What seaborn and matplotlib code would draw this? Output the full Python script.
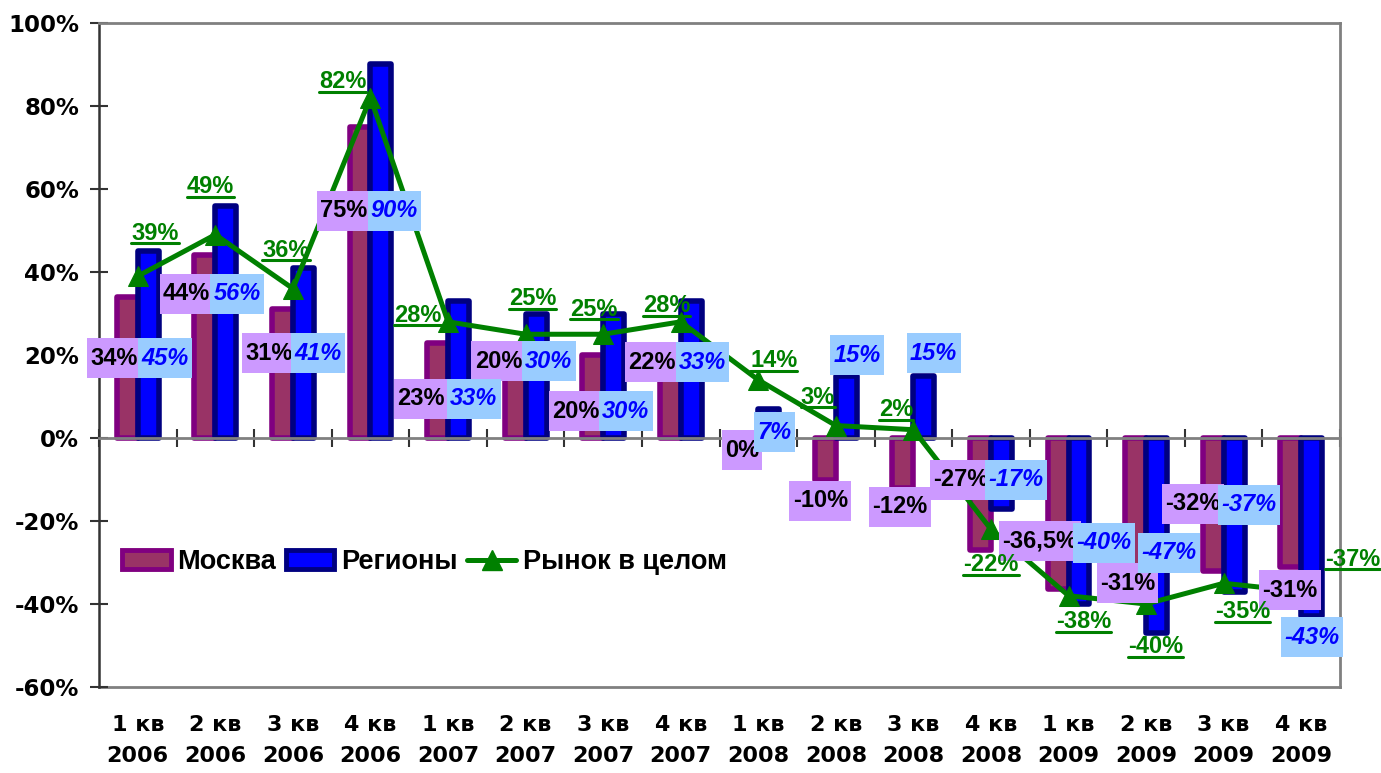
import numpy as np
import pandas as pd
import matplotlib
matplotlib.use("Agg")
import matplotlib.pyplot as plt
import seaborn as sns
from matplotlib.path import Path
from matplotlib.lines import Line2D
from matplotlib.patches import Patch
from matplotlib.ticker import FuncFormatter, NullLocator
from matplotlib.font_manager import FontProperties

# ---------------- data ----------------
quarters = ["1 кв\n2006", "2 кв\n2006", "3 кв\n2006", "4 кв\n2006",
            "1 кв\n2007", "2 кв\n2007", "3 кв\n2007", "4 кв\n2007",
            "1 кв\n2008", "2 кв\n2008", "3 кв\n2008", "4 кв\n2008",
            "1 кв\n2009", "2 кв\n2009", "3 кв\n2009", "4 кв\n2009"]
moscow = [34, 44, 31, 75, 23, 20, 20, 22, 0, -10, -12, -27, -36.5, -31, -32, -31]
regions = [45, 56, 41, 90, 33, 30, 30, 33, 7, 15, 15, -17, -40, -47, -37, -43]
market = [39, 49, 36, 82, 28, 25, 25, 28, 14, 3, 2, -22, -38, -40, -35, -37]
series_names = ["Москва", "Регионы", "Рынок в целом"]
y_ticks = [-60, -40, -20, 0, 20, 40, 60, 80, 100]

# ---------------- label placement (offset from category centre, y in %) ----------------
moscow_lab_dx = [-0.31, -0.37, -0.31, -0.34, -0.35, -0.35, -0.35, -0.37,
                 -0.21, -0.20, -0.17, -0.39, -0.37, -0.24, -0.40, -0.15]
moscow_lab_y = [19.2, 34.8, 20.4, 54.8, 9.4, 18.5, 6.5, 18.2,
                -2.9, -15.1, -16.6, -10.0, -24.9, -35.0, -15.8, -36.7]
regions_lab_dx = [0.35, 0.28, 0.32, 0.31, 0.33, 0.30, 0.29, 0.28,
                  0.21, 0.27, 0.26, 0.32, 0.46, 0.30, 0.33, 0.14]
regions_lab_y = [19.2, 34.8, 20.4, 54.8, 9.4, 18.5, 6.5, 18.2,
                 1.4, 19.9, 20.4, -10.0, -25.2, -27.6, -16.1, -48.0]
market_lab_dx = [0.22, -0.06, -0.09, -0.36, -0.39, 0.09, -0.12, -0.18,
                 0.20, -0.23, -0.22, 0.00, 0.19, 0.12, 0.24, 0.66]
market_lab_y = [49.3, 60.5, 45.2, 85.8, 29.6, 33.5, 31.0, 31.9,
                18.6, 9.8, 6.8, -30.5, -44.3, -50.3, -41.9, -29.2]

# ---------------- styles ----------------
MOSCOW_FILL, MOSCOW_EDGE = "#993366", "#800080"
REGIONS_FILL, REGIONS_EDGE = "#0000FF", "#000080"
MARKET_COLOR = "#008000"
MOSCOW_BOX, REGIONS_BOX = "#CC99FF", "#99CCFF"
BORDER = "#808080"
AXIS_DARK = "#333333"
LABEL_SIZE = 17

sns.set_style("white")
plt.rcParams["font.family"] = ["Liberation Sans", "DejaVu Sans"]
plt.rcParams["font.weight"] = "bold"
plt.rcParams["text.color"] = "black"
plt.rcParams["xtick.labelcolor"] = "black"
plt.rcParams["ytick.labelcolor"] = "black"


def fmt_pct(v):
    if float(v).is_integer():
        return f"{v:.0f}%"
    return f"{v}".replace(".", ",") + "%"


def label_box(x0, y0, width, height, mutation_size):
    """Rectangle with separate horizontal / vertical padding."""
    px = 0.14 * mutation_size
    py = 0.36 * mutation_size
    return Path([(x0 - px, y0 - py), (x0 + width + px, y0 - py),
                 (x0 + width + px, y0 + height + py), (x0 - px, y0 + height + py),
                 (x0 - px, y0 - py)], closed=True)


n = len(quarters)
pos = np.arange(n)

fig = plt.figure(figsize=(13.81, 7.73), dpi=100)
ax = fig.add_axes([99 / 1381, 1 - 687 / 773, 1241 / 1381, 664 / 773])

df = pd.DataFrame({
    "Квартал": quarters * 2,
    "Серия": [series_names[0]] * n + [series_names[1]] * n,
    "Изменение": moscow + regions,
})

sns.barplot(data=df, x="Квартал", y="Изменение", hue="Серия",
            order=quarters, hue_order=series_names[:2],
            palette=[MOSCOW_FILL, REGIONS_FILL], saturation=1,
            width=0.54, dodge=True, gap=0, errorbar=None,
            linewidth=4.0, legend=False, ax=ax)
for cont, edge in zip(ax.containers, [MOSCOW_EDGE, REGIONS_EDGE]):
    for bar in cont:
        bar.set_edgecolor(edge)
        bar.set_joinstyle("round")

sns.lineplot(x=pos, y=market, ax=ax, color=MARKET_COLOR, linewidth=3.6,
             marker="^", markersize=14, markeredgecolor=MARKET_COLOR,
             legend=False, zorder=3)

# ---------------- axes ----------------
ax.set_xlim(-0.5, n - 0.5)
ax.set_ylim(y_ticks[0], y_ticks[-1])
ax.set_xlabel("")
ax.set_ylabel("")
ax.set_axisbelow(True)

ax.set_yticks(y_ticks)
ax.yaxis.set_major_formatter(FuncFormatter(lambda v, _: f"{v:.0f}%"))
ax.tick_params(axis="y", direction="inout", length=12.5, width=1.5,
               color=AXIS_DARK, labelsize=16.5, pad=8.0, labelcolor="black",
               labelfontfamily="DejaVu Sans", left=True)

# category axis crossing at zero, with boundary tick marks
ax.spines["bottom"].set_position(("data", 0))
ax.spines["bottom"].set_color(BORDER)
ax.spines["bottom"].set_linewidth(2)
ax.set_xticks([])
ax.set_xticks(np.arange(-0.5, n, 1.0), minor=True)
ax.tick_params(axis="x", which="minor", direction="inout", length=12.5,
               width=1.5, color=AXIS_DARK, bottom=True)
ax.tick_params(axis="x", which="major", length=0, labelbottom=False)

for side in ("top", "right"):
    ax.spines[side].set_visible(True)
    ax.spines[side].set_color(BORDER)
    ax.spines[side].set_linewidth(2)
ax.spines["left"].set_color(AXIS_DARK)
ax.spines["left"].set_linewidth(1.8)

# quarter labels below the plot area
sec = ax.secondary_xaxis("bottom")
sec.set_xticks(pos, labels=quarters, fontfamily="DejaVu Sans",
               fontweight="bold", fontsize=16, linespacing=1.72,
               color="black")
sec.xaxis.set_minor_locator(NullLocator())
sec.tick_params(axis="x", length=0, pad=20)
sec.spines["bottom"].set_color(BORDER)
sec.spines["bottom"].set_linewidth(2)

# ---------------- data labels ----------------
for i in range(n):
    ax.text(pos[i] + moscow_lab_dx[i], moscow_lab_y[i], fmt_pct(moscow[i]),
            ha="center", va="center", fontsize=LABEL_SIZE, color="black",
            bbox=dict(boxstyle=label_box, facecolor=MOSCOW_BOX, edgecolor="none"),
            zorder=5)
for i in range(n):
    ax.text(pos[i] + regions_lab_dx[i], regions_lab_y[i], fmt_pct(regions[i]),
            ha="center", va="center", fontsize=LABEL_SIZE, color=REGIONS_FILL,
            style="italic",
            bbox=dict(boxstyle=label_box, facecolor=REGIONS_BOX, edgecolor="none"),
            zorder=6)
market_texts = []
for i in range(n):
    t = ax.text(pos[i] + market_lab_dx[i], market_lab_y[i], fmt_pct(market[i]),
                ha="center", va="center", fontsize=LABEL_SIZE, color=MARKET_COLOR,
                zorder=7)
    market_texts.append(t)

# ---------------- legend ----------------
handles = [
    Patch(facecolor=MOSCOW_FILL, edgecolor=MOSCOW_EDGE, linewidth=3.5),
    Patch(facecolor=REGIONS_FILL, edgecolor=REGIONS_EDGE, linewidth=3.5),
    Line2D([], [], color=MARKET_COLOR, linewidth=3.6, marker="^",
           markersize=14, markeredgecolor=MARKET_COLOR),
]
ax.legend(handles, series_names, ncol=3, loc="center left",
          bbox_to_anchor=(0.0185, 0.188), frameon=False,
          prop=FontProperties(family="Liberation Sans", weight="bold", size=19.5),
          handlelength=1.8, handleheight=0.72, handletextpad=0.25,
          columnspacing=0.35, borderaxespad=0, borderpad=0)

# underline the market labels
fig.canvas.draw()
renderer = fig.canvas.get_renderer()
to_fig = fig.transFigure.inverted()
for t in market_texts:
    bb = t.get_window_extent(renderer)
    (x0, y0), (x1, _) = to_fig.transform([(bb.x0, bb.y0 + 1.5), (bb.x1, bb.y0 + 1.5)])
    fig.add_artist(Line2D([x0, x1], [y0, y0], color=MARKET_COLOR,
                          linewidth=2.2, transform=fig.transFigure, zorder=8))

fig.savefig("out.png", dpi=100, facecolor="white")
